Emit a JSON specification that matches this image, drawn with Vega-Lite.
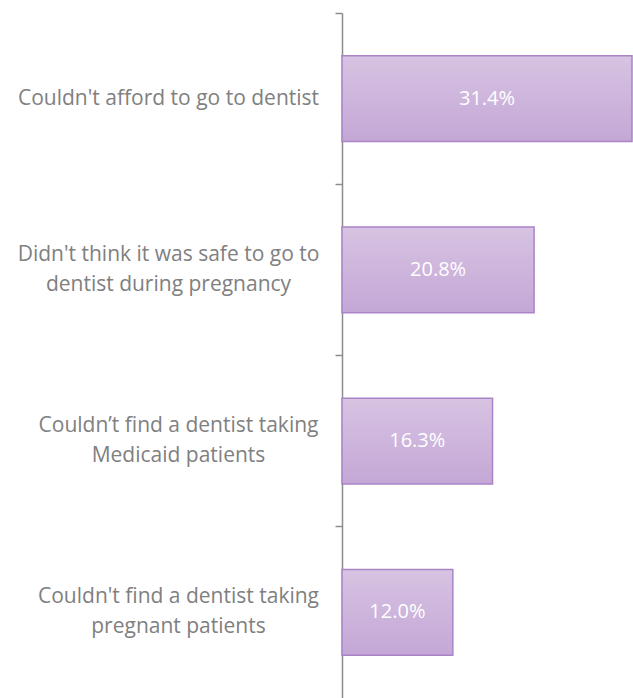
{
  "$schema": "https://vega.github.io/schema/vega-lite/v6.json",
  "width": 290,
  "height": 685,
  "autosize": {"type": "none"},
  "padding": {"left": 342, "top": 13, "right": 1, "bottom": 0},
  "background": "white",
  "config": {"view": {"stroke": null}, "font": "Open Sans"},
  "data": {"values": [
    {"reason": "Couldn't afford to go to dentist", "pct": 31.4, "label": "31.4%"},
    {"reason": "Didn't think it was safe to go to|dentist during pregnancy", "pct": 20.8, "label": "20.8%"},
    {"reason": "Couldn’t find a dentist taking|Medicaid patients", "pct": 16.3, "label": "16.3%"},
    {"reason": "Couldn't find a dentist taking|pregnant patients", "pct": 12.0, "label": "12.0%"}
  ]},
  "encoding": {
    "y": {
      "field": "reason", "type": "nominal", "sort": null,
      "scale": {"paddingInner": 0.5, "paddingOuter": 0.25},
      "axis": {
        "title": null,
        "domainColor": "#8c8c8c", "domainWidth": 1.5,
        "tickColor": "#8c8c8c", "tickWidth": 1.5, "tickSize": 7,
        "bandPosition": -0.5,
        "labelExpr": "split(datum.label, '|')",
        "labelAlign": "center",
        "labelBaseline": "middle",
        "labelLineHeight": 30,
        "labelOffset": {"condition": {"test": "indexof(datum.value, '|') >= 0", "value": -15}, "value": 0},
        "labelPadding": {"condition": {"test": "indexof(datum.value, 'find a dentist') >= 0", "value": 157}, "value": 167},
        "labelFont": "Open Sans", "labelFontSize": 21, "labelColor": "#808080",
        "labelLimit": 400
      }
    },
    "x": {"field": "pct", "type": "quantitative", "scale": {"domain": [0, 31.4], "nice": false}, "axis": null}
  },
  "layer": [
    {
      "mark": {
        "type": "bar",
        "fill": {"gradient": "linear", "x1": 0, "y1": 0, "x2": 0, "y2": 1,
          "stops": [{"offset": 0, "color": "#d7c3e2"}, {"offset": 1, "color": "#c4a7d6"}]},
        "stroke": "#ab84c8", "strokeWidth": 1.5
      }
    },
    {
      "mark": {"type": "text", "color": "white", "fontSize": 20, "font": "Open Sans",
        "dx": {"expr": "-scale('x', datum.pct) / 2"}},
      "encoding": {
        "text": {"field": "label"}
      }
    }
  ]
}
